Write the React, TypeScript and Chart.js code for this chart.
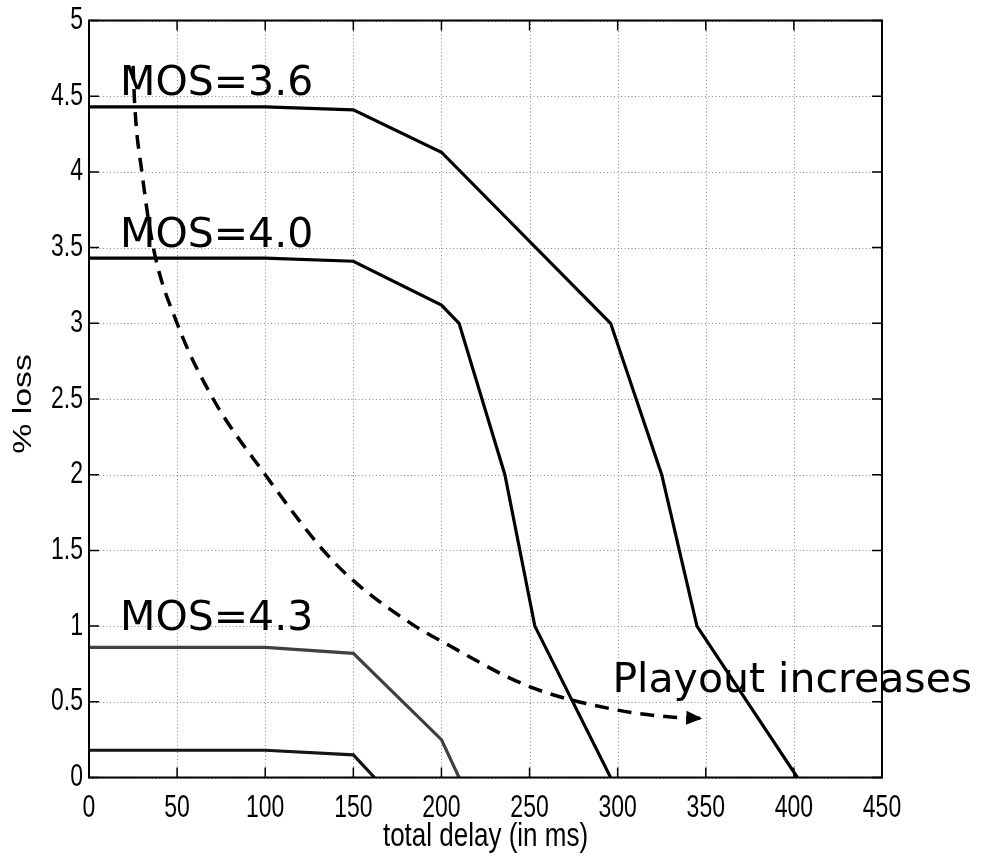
import React, { useEffect, useRef } from "react";
import { Chart, registerables } from "chart.js";

Chart.register(...registerables);

// Delay (ms) / loss (%) vertices of each iso-MOS contour
const mos36Delay = [0, 100, 150, 200, 296, 325, 345, 402];
const mos36Loss = [4.43, 4.43, 4.41, 4.13, 3.0, 2.0, 1.0, 0];

const mos40Delay = [0, 100, 150, 200, 210, 236, 253, 296];
const mos40Loss = [3.43, 3.43, 3.41, 3.12, 3.0, 2.0, 1.0, 0];

const mos43Delay = [0, 100, 150, 200, 210];
const mos43Loss = [0.86, 0.86, 0.82, 0.25, 0];

const lowDelay = [0, 100, 150, 162];
const lowLoss = [0.18, 0.18, 0.15, 0];

// Dashed "playout increases" trend arrow
const arrowDelay = [25, 26, 30, 36.5, 50, 70.5, 100, 133, 150, 185, 200, 250, 300, 330, 348];
const arrowLoss = [4.7, 4.43, 4.0, 3.5, 3.0, 2.5, 2.0, 1.5, 1.3, 1.0, 0.9, 0.6, 0.445, 0.4, 0.39];

// Text labels placed in data coordinates
const labelText = ["MOS=3.6", "MOS=4.0", "MOS=4.3", "Playout increases"];
const labelDelay = [17.6, 17.6, 17.6, 297];
const labelLoss = [4.51, 3.506, 0.974, 0.567];

const xTitle = "total delay (in ms)";
const yTitle = "% loss";

const toPoints = (xs: number[], ys: number[]) => xs.map((x, i) => ({ x, y: ys[i] }));

const TICK_FONT = '23px "Liberation Sans", Arial, sans-serif';
const TITLE_FONT = '26px "Liberation Sans", Arial, sans-serif';
const NOTE_FONT = '41px "DejaVu Sans", Verdana, sans-serif';
const STRETCH = 1.35;

function stretchedText(
  ctx: CanvasRenderingContext2D,
  text: string,
  x: number,
  y: number,
  align: CanvasTextAlign,
  baseline: CanvasTextBaseline,
  font: string,
  sy: number,
  rotate = 0
) {
  ctx.save();
  ctx.translate(x, y);
  ctx.scale(1, sy);
  if (rotate) ctx.rotate(rotate);
  ctx.font = font;
  ctx.textAlign = align;
  ctx.textBaseline = baseline;
  ctx.fillStyle = "#000";
  ctx.fillText(text, 0, 0);
  ctx.restore();
}

const framePlugin = {
  id: "matlabFrame",
  beforeDatasetsDraw(chart: any) {
    const { ctx, chartArea: a, scales } = chart;
    ctx.save();
    ctx.strokeStyle = "#8a8a8a";
    ctx.lineWidth = 1;
    ctx.setLineDash([1, 2.5]);
    scales.x.ticks.forEach((t: any) => {
      const px = Math.round(scales.x.getPixelForValue(t.value)) + 0.5;
      ctx.beginPath();
      ctx.moveTo(px, a.top);
      ctx.lineTo(px, a.bottom);
      ctx.stroke();
    });
    scales.y.ticks.forEach((t: any) => {
      const py = Math.round(scales.y.getPixelForValue(t.value)) + 0.5;
      ctx.beginPath();
      ctx.moveTo(a.left, py);
      ctx.lineTo(a.right, py);
      ctx.stroke();
    });
    ctx.restore();
  },
  afterDatasetsDraw(chart: any) {
    const { ctx, chartArea: a, scales } = chart;

    // arrow head at the end of the dashed trend line
    const meta = chart.getDatasetMeta(4);
    const pts = meta.data;
    const tip = pts[pts.length - 1];
    const prev = pts[pts.length - 2];
    const ang = Math.atan2(tip.y - prev.y, tip.x - prev.x);
    const len = 16;
    const half = 7;
    ctx.save();
    ctx.fillStyle = "#000";
    ctx.beginPath();
    ctx.moveTo(tip.x, tip.y);
    ctx.lineTo(tip.x - len * Math.cos(ang) - half * Math.sin(ang), tip.y - len * Math.sin(ang) + half * Math.cos(ang));
    ctx.lineTo(tip.x - len * Math.cos(ang) + half * Math.sin(ang), tip.y - len * Math.sin(ang) - half * Math.cos(ang));
    ctx.closePath();
    ctx.fill();
    ctx.restore();

    // box and inward tick marks on all four sides
    ctx.save();
    ctx.strokeStyle = "#000";
    ctx.lineWidth = 2;
    ctx.strokeRect(a.left, a.top, a.right - a.left, a.bottom - a.top);
    ctx.lineWidth = 1.5;
    const tl = 10;
    scales.x.ticks.forEach((t: any) => {
      const px = scales.x.getPixelForValue(t.value);
      ctx.beginPath();
      ctx.moveTo(px, a.bottom);
      ctx.lineTo(px, a.bottom - tl);
      ctx.moveTo(px, a.top);
      ctx.lineTo(px, a.top + tl);
      ctx.stroke();
    });
    scales.y.ticks.forEach((t: any) => {
      const py = scales.y.getPixelForValue(t.value);
      ctx.beginPath();
      ctx.moveTo(a.left, py);
      ctx.lineTo(a.left + tl, py);
      ctx.moveTo(a.right, py);
      ctx.lineTo(a.right - tl, py);
      ctx.stroke();
    });
    ctx.restore();

    // tick labels
    scales.x.ticks.forEach((t: any) => {
      const px = scales.x.getPixelForValue(t.value);
      stretchedText(ctx, String(t.value), px, a.bottom + 39, "center", "alphabetic", TICK_FONT, STRETCH);
    });
    scales.y.ticks.forEach((t: any) => {
      const py = scales.y.getPixelForValue(t.value);
      stretchedText(ctx, String(t.value), a.left - 6, py, "right", "middle", TICK_FONT, STRETCH);
    });

    // axis titles
    stretchedText(ctx, xTitle, (a.left + a.right) / 2, a.bottom + 68, "center", "alphabetic", TITLE_FONT, 1.3);
    stretchedText(ctx, yTitle, 24, (a.top + a.bottom) / 2 + 5, "center", "middle", TITLE_FONT, 1.3, -Math.PI / 2);

    // contour notes
    labelText.forEach((txt, i) => {
      const px = scales.x.getPixelForValue(labelDelay[i]);
      const py = scales.y.getPixelForValue(labelLoss[i]);
      ctx.save();
      ctx.font = NOTE_FONT;
      ctx.textAlign = "left";
      ctx.textBaseline = "alphabetic";
      ctx.fillStyle = "#000";
      ctx.fillText(txt, px, py);
      ctx.restore();
    });
  },
};

export default function App() {
  const canvasRef = useRef<HTMLCanvasElement | null>(null);

  useEffect(() => {
    document.body.style.margin = "0";
    const canvas = canvasRef.current;
    if (!canvas) return;
    const solid = (data: any, color: string) => ({
      data,
      borderColor: color,
      borderWidth: 3.2,
      pointRadius: 0,
      tension: 0,
      fill: false,
    });
    const chart = new Chart(canvas, {
      type: "line",
      data: {
        datasets: [
          solid(toPoints(mos36Delay, mos36Loss), "#000"),
          solid(toPoints(mos40Delay, mos40Loss), "#000"),
          solid(toPoints(mos43Delay, mos43Loss), "#404040"),
          solid(toPoints(lowDelay, lowLoss), "#151515"),
          {
            data: toPoints(arrowDelay, arrowLoss),
            borderColor: "#000",
            borderWidth: 3.5,
            borderDash: [14, 9],
            pointRadius: 0,
            cubicInterpolationMode: "monotone",
            fill: false,
          },
        ],
      },
      options: {
        animation: false,
        responsive: false,
        maintainAspectRatio: false,
        layout: { padding: { left: 0, top: 20.5, right: 99, bottom: 0 } },
        plugins: { legend: { display: false }, tooltip: { enabled: false } },
        scales: {
          x: {
            type: "linear",
            min: 0,
            max: 450,
            ticks: { stepSize: 50, display: false },
            grid: { display: false },
            border: { display: false },
            afterFit: (s: any) => {
              s.height = 86.5;
            },
          },
          y: {
            type: "linear",
            min: 0,
            max: 5,
            ticks: { stepSize: 0.5, display: false },
            grid: { display: false },
            border: { display: false },
            afterFit: (s: any) => {
              s.width = 89;
            },
          },
        },
      },
      plugins: [framePlugin],
    } as any);
    return () => chart.destroy();
  }, []);

  return (
    <div style={{ position: "absolute", left: 0, top: 0, width: 981, height: 864, background: "#fff" }}>
      <canvas ref={canvasRef} width={981} height={864} />
    </div>
  );
}
